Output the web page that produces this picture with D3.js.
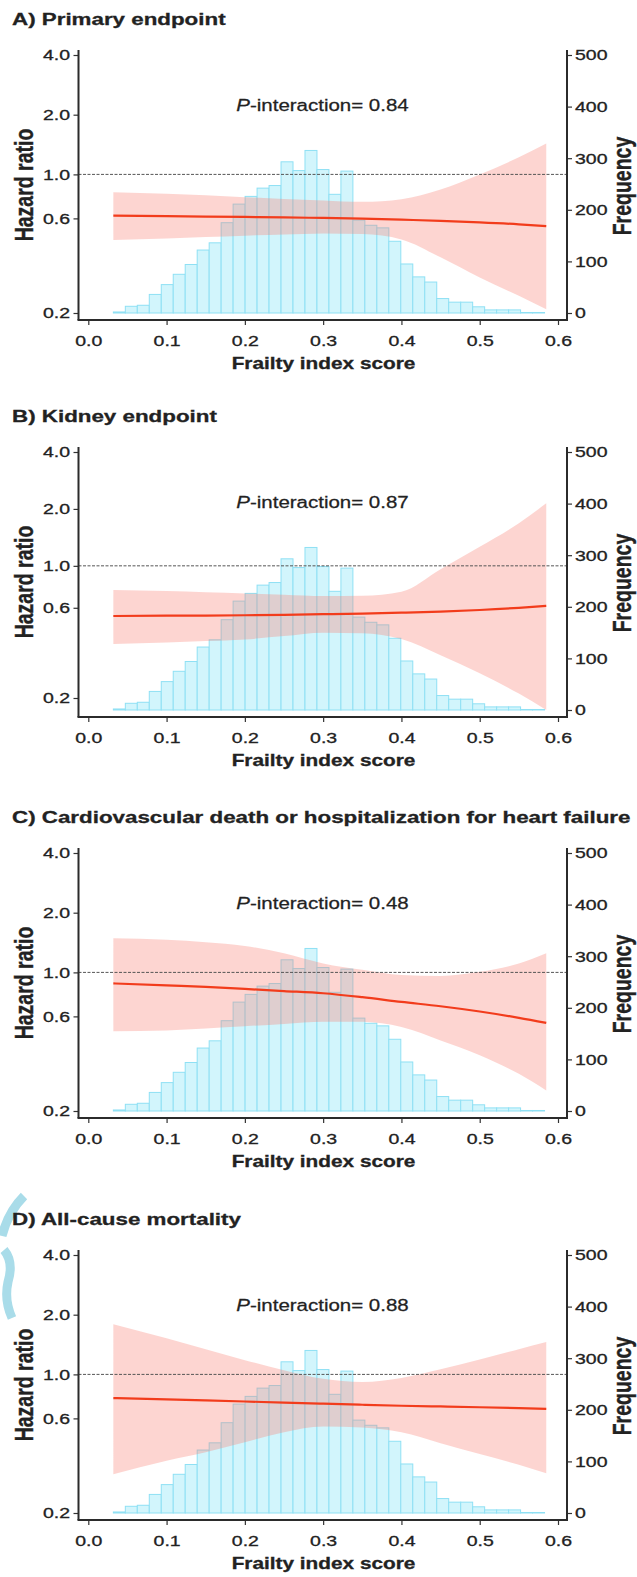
<!DOCTYPE html>
<html><head><meta charset="utf-8">
<script src="https://cdn.jsdelivr.net/npm/d3@7"></script>
<style>
body{margin:0;background:#fff}
text{font-family:"Liberation Sans",Arial,Helvetica,sans-serif;fill:#222}
</style>
</head><body>
<svg id="chart" width="637" height="1577"></svg>
<script>
// ---------------- DATA ----------------
const panelTitles = [
  "A) Primary endpoint",
  "B) Kidney endpoint",
  "C) Cardiovascular death or hospitalization for heart failure",
  "D) All-cause mortality"
];
const pInteraction = ["0.84", "0.87", "0.48", "0.88"];
const xLabel = "Frailty index score";
const yLeftLabel = "Hazard ratio";
const yRightLabel = "Frequency";

const xTicks = [0.0, 0.1, 0.2, 0.3, 0.4, 0.5, 0.6];
const xTickLabels = ["0.0", "0.1", "0.2", "0.3", "0.4", "0.5", "0.6"];
const hrTicks = [0.2, 0.6, 1.0, 2.0, 4.0];
const hrTickLabels = ["0.2", "0.6", "1.0", "2.0", "4.0"];
const freqTicks = [0, 100, 200, 300, 400, 500];

// histogram of frailty index (same population in every panel)
const binLo = [0.0320, 0.0473, 0.0626, 0.0779, 0.0932, 0.1085, 0.1238, 0.1391, 0.1544,
  0.1697, 0.1850, 0.2003, 0.2156, 0.2309, 0.2462, 0.2615, 0.2768, 0.2921, 0.3074,
  0.3227, 0.3380, 0.3533, 0.3686, 0.3839, 0.3992, 0.4145, 0.4298, 0.4451, 0.4604,
  0.4757, 0.4910, 0.5063, 0.5216, 0.5369, 0.5522, 0.5675];
const binWidth = 0.0153;
const frequency = [2, 13, 15, 36, 55, 75, 94, 122, 136, 175, 211, 226, 242, 247, 293,
  276, 315, 278, 230, 275, 180, 170, 165, 139, 95, 70, 60, 28, 21, 21, 12, 6, 6, 6, 1, 1];

// spline hazard ratio curves with 95% CI, read at these frailty scores
const curveX = [0.032, 0.1, 0.15, 0.2, 0.25, 0.3, 0.35, 0.4, 0.45, 0.5, 0.55, 0.585];

const hrA = [0.620, 0.616, 0.613, 0.610, 0.607, 0.603, 0.598, 0.591, 0.583, 0.573, 0.560, 0.548];
const loA = [0.467, 0.475, 0.483, 0.491, 0.498, 0.504, 0.500, 0.470, 0.382, 0.302, 0.244, 0.209];
const hiA = [0.813, 0.798, 0.785, 0.768, 0.752, 0.739, 0.727, 0.750, 0.840, 1.000, 1.220, 1.430];

const hrB = [0.543, 0.545, 0.546, 0.548, 0.551, 0.555, 0.559, 0.565, 0.573, 0.584, 0.600, 0.615];
const loB = [0.386, 0.393, 0.400, 0.408, 0.425, 0.443, 0.440, 0.410, 0.337, 0.270, 0.211, 0.173];
const hiB = [0.745, 0.735, 0.725, 0.715, 0.703, 0.692, 0.695, 0.730, 0.960, 1.260, 1.680, 2.140];

const hrC = [0.880, 0.860, 0.845, 0.825, 0.805, 0.785, 0.750, 0.710, 0.675, 0.635, 0.590, 0.556];
const loC = [0.505, 0.510, 0.522, 0.535, 0.550, 0.563, 0.563, 0.530, 0.454, 0.382, 0.308, 0.254];
const hiC = [1.486, 1.460, 1.420, 1.360, 1.250, 1.110, 1.030, 0.970, 0.960, 1.007, 1.110, 1.250];

const hrD = [0.760, 0.748, 0.739, 0.730, 0.721, 0.712, 0.703, 0.695, 0.689, 0.683, 0.676, 0.670];
const loD = [0.314, 0.367, 0.405, 0.455, 0.511, 0.546, 0.540, 0.511, 0.450, 0.397, 0.350, 0.317];
const hiD = [1.790, 1.520, 1.340, 1.180, 1.050, 0.950, 0.915, 0.960, 1.060, 1.190, 1.340, 1.457];

const hrSeries = [hrA, hrB, hrC, hrD];
const loSeries = [loA, loB, loC, loD];
const hiSeries = [hiA, hiB, hiC, hiD];

// ---------------- LAYOUT ----------------
const svg = d3.select("#chart");
const panelOffsets = [0, 397, 798, 1200];
const hrBottomPx = [313, 301, 313, 313];   // where HR 0.2 sits (panel-local)
const SX = 1.3;                            // horizontal text stretch of the figure
const plotTop = 55, freqBottom = 313;
const axisTop = 50, axisBottom = 320;
const leftX = 78.5, rightX = 567;

const x = d3.scaleLinear().domain([0, 0.6]).range([88.3, 558]);
const yF = d3.scaleLinear().domain([0, 500]).range([freqBottom, plotTop]);

function stretchText(sel, dx) {
  sel.attr("x", 0).attr("transform", `translate(${dx},0) scale(${SX},1)`);
}

// faint logo remnant at the left margin of panel D
svg.append("path")
  .attr("d", "M 24 1196 Q 8 1212 2 1236 M 4 1250 Q 14 1262 8 1282 Q 4 1300 12 1318")
  .attr("fill", "none").attr("stroke", "#a9dce9").attr("stroke-width", 9)
  .attr("stroke-linecap", "butt");

panelTitles.forEach((title, i) => {
  const g = svg.append("g").attr("transform", `translate(0,${panelOffsets[i]})`);
  const yH = d3.scaleLog().domain([0.2, 4]).range([hrBottomPx[i], plotTop]);

  // title
  g.append("text")
    .attr("transform", `translate(12,25) scale(${SX},1)`)
    .attr("font-size", 17.2).attr("font-weight", "bold")
    .attr("stroke", "#222").attr("stroke-width", 0.3)
    .text(title);

  // histogram
  g.append("g").selectAll("rect")
    .data(frequency.map((f, k) => ({ lo: binLo[k], f })))
    .join("rect")
    .attr("x", d => x(d.lo))
    .attr("width", d => x(d.lo + binWidth) - x(d.lo))
    .attr("y", d => yF(d.f))
    .attr("height", d => yF(0) - yF(d.f))
    .attr("fill", "#d2f5fc")
    .attr("stroke", "#8fe0f4")
    .attr("stroke-width", 1);

  // confidence band
  const pts = curveX.map((cx, k) => ({ x: cx, hr: hrSeries[i][k], lo: loSeries[i][k], hi: hiSeries[i][k] }));
  g.append("path")
    .datum(pts)
    .attr("d", d3.area().curve(d3.curveMonotoneX)
      .x(d => x(d.x)).y0(d => yH(d.lo)).y1(d => yH(d.hi)))
    .attr("fill", "#fa8072").attr("fill-opacity", 0.33);

  // reference line at HR = 1
  g.append("line")
    .attr("x1", leftX).attr("x2", rightX)
    .attr("y1", yH(1)).attr("y2", yH(1))
    .attr("stroke", "#555").attr("stroke-width", 1)
    .attr("stroke-dasharray", "3,1.5");

  // HR curve
  g.append("path")
    .datum(pts)
    .attr("d", d3.line().curve(d3.curveMonotoneX).x(d => x(d.x)).y(d => yH(d.hr)))
    .attr("fill", "none").attr("stroke", "#f23c1c").attr("stroke-width", 2.2);

  // P-interaction
  const pt = g.append("text")
    .attr("transform", `translate(322.5,111) scale(1.28,1)`)
    .attr("text-anchor", "middle").attr("font-size", 16)
    .attr("stroke", "#222").attr("stroke-width", 0.25);
  pt.append("tspan").attr("font-style", "italic").text("P");
  pt.append("tspan").text("-interaction= " + pInteraction[i]);

  // axes
  const axL = g.append("g").attr("transform", `translate(${leftX},0)`)
    .call(d3.axisLeft(yH).tickValues(hrTicks).tickFormat((d, k) => hrTickLabels[k])
      .tickSize(5).tickSizeOuter(0));
  axL.select(".domain").remove();
  axL.selectAll("text").attr("font-size", 15).call(s => stretchText(s, -8.5));

  const axR = g.append("g").attr("transform", `translate(${rightX},0)`)
    .call(d3.axisRight(yF).tickValues(freqTicks).tickSize(5).tickSizeOuter(0));
  axR.select(".domain").remove();
  axR.selectAll("text").attr("font-size", 15).call(s => stretchText(s, 8));

  const axB = g.append("g").attr("transform", `translate(0,${axisBottom})`)
    .call(d3.axisBottom(x).tickValues(xTicks).tickFormat((d, k) => xTickLabels[k])
      .tickSize(5).tickSizeOuter(0));
  axB.select(".domain").remove();
  axB.selectAll("text").attr("font-size", 15).attr("y", 15)
    .attr("transform", `scale(${SX},1)`);

  [axL, axR, axB].forEach(a => {
    a.attr("font-family", null).attr("font-size", null);
    a.selectAll("text").attr("fill", "#222").attr("stroke", "#222").attr("stroke-width", 0.3);
    a.selectAll(".tick line").attr("stroke", "#333").attr("stroke-width", 1.2);
  });

  // axis lines
  g.append("line").attr("x1", leftX).attr("x2", leftX).attr("y1", axisTop).attr("y2", axisBottom)
    .attr("stroke", "#2b2b2b").attr("stroke-width", 2);
  g.append("line").attr("x1", rightX).attr("x2", rightX).attr("y1", axisTop).attr("y2", axisBottom)
    .attr("stroke", "#2b2b2b").attr("stroke-width", 2);
  g.append("line").attr("x1", leftX - 1).attr("x2", rightX + 1).attr("y1", axisBottom).attr("y2", axisBottom)
    .attr("stroke", "#2b2b2b").attr("stroke-width", 2);

  // axis titles
  g.append("text")
    .attr("transform", `translate(323.5,369) scale(${SX},1)`)
    .attr("text-anchor", "middle").attr("font-size", 16).attr("font-weight", "bold")
    .attr("stroke", "#222").attr("stroke-width", 0.3)
    .text(xLabel);
  g.append("text")
    .attr("transform", `translate(33,185) scale(${SX},1) rotate(-90)`)
    .attr("text-anchor", "middle").attr("font-size", 19.5).attr("font-weight", "bold")
    .attr("stroke", "#222").attr("stroke-width", 0.3)
    .text(yLeftLabel);
  g.append("text")
    .attr("transform", `translate(631,186) scale(${SX},1) rotate(-90)`)
    .attr("text-anchor", "middle").attr("font-size", 19.5).attr("font-weight", "bold")
    .attr("stroke", "#222").attr("stroke-width", 0.3)
    .text(yRightLabel);
});
</script>
</body></html>
